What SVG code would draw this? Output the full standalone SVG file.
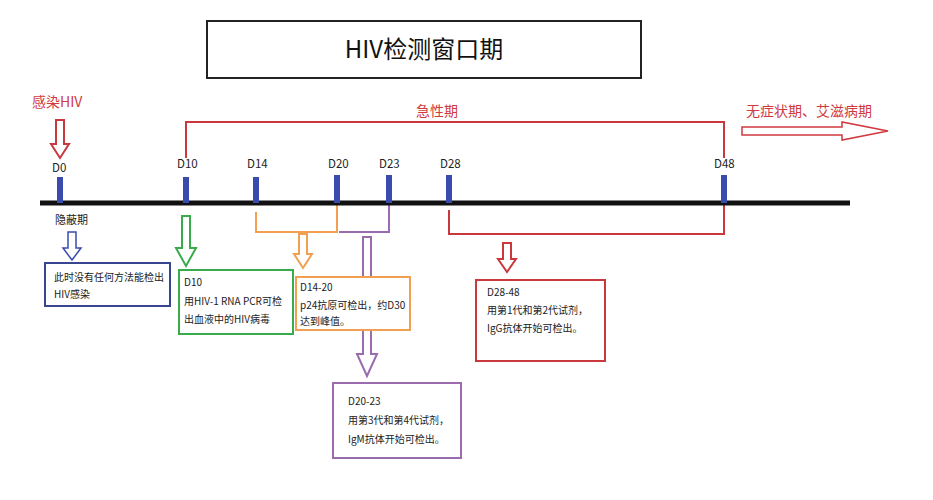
<svg xmlns="http://www.w3.org/2000/svg" width="933" height="500" viewBox="0 0 933 500">
<style>
text{font-family:"Noto Sans CJK SC","Liberation Sans",sans-serif}
.sm{font-size:10px;fill:#222}
.lab{font-size:11.5px;fill:#222}
.red{fill:#d0393e}
.tick{fill:#3a4bb0}
.box{fill:#fff;stroke-width:2}
</style>
<rect width="933" height="500" fill="#fff"/>
<g id="title"><rect x="207" y="21" width="434" height="57" fill="#fff" stroke="#222" stroke-width="2"/><text x="424" y="58" font-size="24" text-anchor="middle" fill="#111">HIV检测窗口期</text></g>
<g id="connectors" fill="none" stroke-width="2">
<path d="M186 158V122H724V158" stroke="#c9383c"/>
<path d="M256 212V232H337V205" stroke="#f0a050"/>
<path d="M339 232H389V205" stroke="#9b6bb0"/>
<path d="M449 210V234H724V205" stroke="#c9383c"/>
<path d="M56 120h8v24h5l-9 14l-9-14h5z" stroke="#c9383c" fill="#fff"/>
<path d="M68 232h8v16h5l-9 12l-9-12h5z" stroke="#3a4bb0" fill="#fff" stroke-width="1.5"/>
<path d="M182 216h8v32h6l-10 18l-10-18h6z" stroke="#3aab4a" fill="#fff"/>
<path d="M299 234h8v20h5l-9 14l-9-14h5z" stroke="#f0a050" fill="#fff"/>
<path d="M363 237h8v117h6l-10 22l-10-22h6z" stroke="#9b6bb0" fill="#fff"/>
<path d="M503 243h8v16h5l-9 13l-9-13h5z" stroke="#c9383c" fill="#fff"/>
<path d="M742 127h100v-5l46 9l-46 9v-5h-100z" stroke="#d0393e" fill="#fff" stroke-width="1.5"/>
<line x1="40" y1="203" x2="850" y2="203" stroke="#111" stroke-width="5"/>
</g>
<g id="ticks">
<rect class="tick" x="57" y="177" width="6" height="26"/><rect class="tick" x="183" y="177" width="6" height="26"/><rect class="tick" x="253" y="177" width="6" height="26"/><rect class="tick" x="334" y="175" width="6" height="28"/><rect class="tick" x="386" y="175" width="6" height="28"/><rect class="tick" x="446" y="175" width="6" height="28"/><rect class="tick" x="721" y="175" width="6" height="28"/>
<text class="lab" x="52" y="172">D0</text><text class="lab" x="177" y="168">D10</text><text class="lab" x="247" y="168">D14</text><text class="lab" x="328" y="168">D20</text><text class="lab" x="379" y="168">D23</text><text class="lab" x="440" y="168">D28</text><text class="lab" x="714" y="168">D48</text>
</g>
<g id="labels">
<text class="red" x="32" y="107" font-size="14">感染HIV</text>
<text class="red" x="416" y="116" font-size="14">急性期</text>
<text class="red" x="746" y="116" font-size="14">无症状期、艾滋病期</text>
<text x="55" y="224" font-size="11" fill="#222">隐蔽期</text>
</g>
<g id="n-blue"><rect class="box" x="45" y="263" width="125" height="43" stroke="#3a4590"/><text class="sm" x="54" y="281">此时没有任何方法能检出</text><text class="sm" x="54" y="298">HIV感染</text></g>
<g id="n-green"><rect class="box" x="179" y="270" width="114" height="64" stroke="#3aab4a"/><text class="sm" x="184" y="286">D10</text><text class="sm" x="184" y="305">用HIV-1 RNA PCR可检</text><text class="sm" x="184" y="323">出血液中的HIV病毒</text></g>
<g id="n-orange"><rect class="box" x="296" y="277" width="114" height="53" stroke="#f0a050"/><text class="sm" x="300" y="291">D14-20</text><text class="sm" x="300" y="309">p24抗原可检出，约D30</text><text class="sm" x="300" y="325">达到峰值。</text></g>
<g id="n-purple"><rect class="box" x="333" y="383" width="128" height="75" stroke="#9b6bb0"/><text class="sm" x="348" y="405">D20-23</text><text class="sm" x="348" y="424">用第3代和第4代试剂，</text><text class="sm" x="348" y="443">IgM抗体开始可检出。</text></g>
<g id="n-red"><rect class="box" x="476" y="280" width="129" height="81" stroke="#c9383c"/><text class="sm" x="487" y="296">D28-48</text><text class="sm" x="487" y="314">用第1代和第2代试剂，</text><text class="sm" x="487" y="332">IgG抗体开始可检出。</text></g>
</svg>
